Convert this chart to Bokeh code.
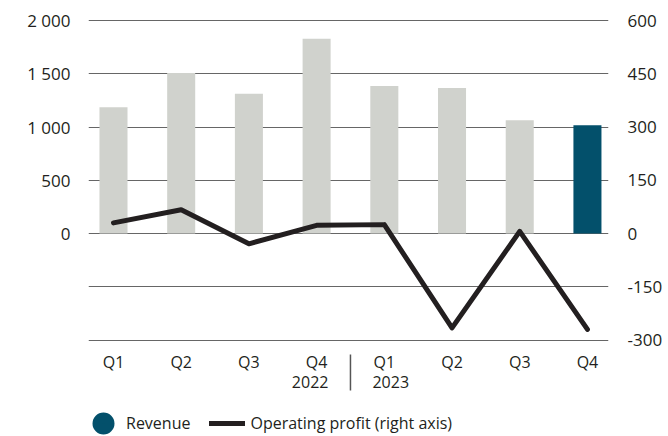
from bokeh.plotting import figure
from bokeh.models import (Range1d, LinearAxis, FixedTicker, Legend, LegendItem,
                          ColumnDataSource, Grid)
from bokeh.core.properties import value
from bokeh.embed import file_html
from bokeh.resources import INLINE

# ---- data ----
quarters = ["Q1", "Q2", "Q3", "Q4", "Q1", "Q2", "Q3", "Q4"]
years = ["2022", "2023"]
revenue = [1186, 1508, 1312, 1829, 1385, 1366, 1063, 1016]
operating_profit = [30, 67, -29, 23, 25, -266, 6, -270]
left_ticks = [0, 500, 1000, 1500, 2000]
left_tick_labels = ["0", "500", "1 000", "1 500", "2 000"]
right_ticks = [-300, -150, 0, 150, 300, 450, 600]
right_tick_labels = ["-300", "-150", "0", "150", "300", "450", "600"]
grid_values = [-1000, -500, 0, 500, 1000, 1500, 2000]

# ---- styles ----
GREY = "#d0d2cd"
TEAL = "#03506b"
INK = "#231f20"
FONT = "Open Sans"

n = len(quarters)
idx = list(range(n))
colors = [GREY] * (n - 1) + [TEAL]
src = ColumnDataSource(dict(x=idx, rev=revenue, op=operating_profit, color=colors))

# ---- layout helpers (frame spans down to the bottom of the canvas) ----
TOP = 19            # frame top, px
FRAME_H = 417       # frame height, px
SCALE = 319.5 / (grid_values[-1] - grid_values[0])   # px per left-axis unit
RATIO = 0.3         # right-axis units per left-axis unit
y1 = grid_values[-1] + 1 / SCALE
y0 = y1 - FRAME_H / SCALE


def y_at(px):
    """left-axis value that sits at canvas pixel row px"""
    return y1 - (px - TOP) / SCALE


p = figure(frame_width=520, frame_height=FRAME_H,
           x_range=Range1d(-0.369, 7.311), y_range=Range1d(y0, y1),
           output_backend="svg", toolbar_location=None,
           x_axis_type=None, y_axis_type=None,
           min_border_left=88, min_border_right=60, min_border_top=TOP, min_border_bottom=0)
p.outline_line_color = None
p.extra_y_ranges = {"right": Range1d(y0 * RATIO, y1 * RATIO),
                    # range used only for the legend swatch renderer (kept off-screen)
                    "swatch": Range1d(1e7, 2e7)}

p.add_layout(Grid(dimension=1, ticker=FixedTicker(ticks=grid_values),
                  grid_line_color="#666666", grid_line_width=1))

common = dict(axis_line_color=None, major_tick_line_color=None, minor_tick_line_color=None,
              major_tick_out=0, major_tick_in=0, minor_tick_out=0, minor_tick_in=0,
              major_label_text_font=FONT, major_label_text_color=INK,
              major_label_text_font_size="17px")

ya = LinearAxis(ticker=FixedTicker(ticks=left_ticks),
                major_label_overrides=dict(zip(left_ticks, left_tick_labels)),
                major_label_standoff=18, **common)
p.add_layout(ya, "left")

yb = LinearAxis(y_range_name="right", ticker=FixedTicker(ticks=right_ticks),
                major_label_overrides=dict(zip(right_ticks, right_tick_labels)),
                major_label_standoff=19, **common)
p.add_layout(yb, "right")

# bars and line
p.vbar(x="x", top="rev", width=0.414, fill_color="color", line_color=None, source=src)
line_r = p.line(x="x", y="op", y_range_name="right", line_width=5, line_color=INK,
                line_join="round", line_cap="round", source=src)

# category labels under the bars
txt = dict(text_font=value(FONT), text_font_size="16px", text_color=INK,
           text_baseline="middle")
p.text(x=idx, y=[y_at(361.5)] * n, text=quarters, text_align="center", **txt)

# year labels either side of the year boundary, plus the separator
boundary = (idx[n // 2 - 1] + idx[n // 2]) / 2
p.text(x=[boundary], y=[y_at(381.5)], text=[years[0]], text_align="right", x_offset=-22, **txt)
p.text(x=[boundary], y=[y_at(381.5)], text=[years[1]], text_align="left", x_offset=22, **txt)
p.segment(x0=[boundary], x1=[boundary], y0=[y_at(354)], y1=[y_at(390)],
          line_color="#555555", line_width=1.5)

# legend swatch for revenue: round marker on an off-screen range (nothing drawn on chart)
dummy = p.scatter(x="x", y="rev", source=src, y_range_name="swatch",
                  marker="circle", size=10, fill_color=TEAL, line_color=TEAL, line_width=11.6)

leg = Legend(items=[LegendItem(label="Revenue", renderers=[dummy]),
                    LegendItem(label="Operating profit (right axis)", renderers=[line_r])],
             orientation="horizontal", location=(-3, 0),
             glyph_width=36, glyph_height=26, label_standoff=5, spacing=19,
             padding=0, margin=0, border_line_color=None, background_fill_alpha=0,
             label_text_font=FONT, label_text_font_size="16px", label_text_color=INK)
p.add_layout(leg, "center")

open("out.html", "w").write(file_html(p, INLINE))
